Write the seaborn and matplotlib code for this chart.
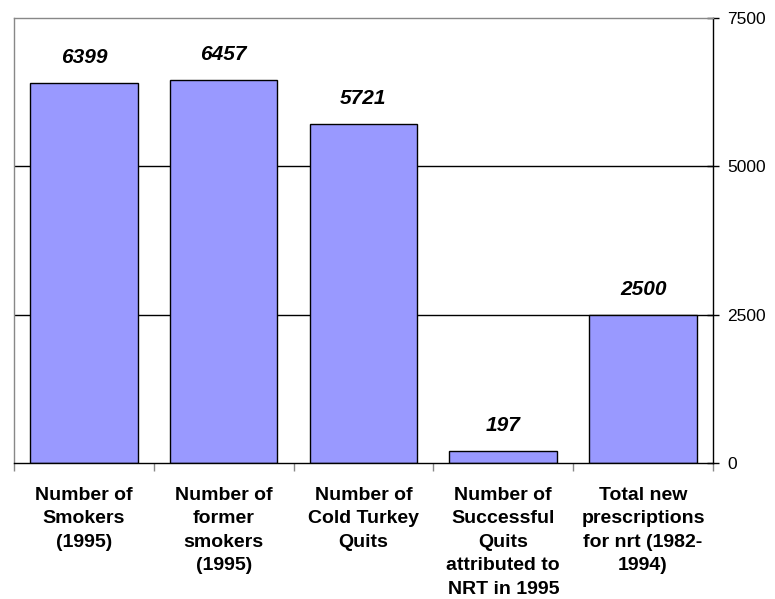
import numpy as np
import matplotlib
matplotlib.use('Agg')

import matplotlib.pyplot as plt
import seaborn as sns
import pandas as pd

# Kategorien und Werte
categories = [
    "Number of\nSmokers\n(1995)",
    "Number of\nformer\nsmokers\n(1995)",
    "Number of\nCold Turkey\nQuits",
    "Number of\nSuccessful\nQuits\nattributed to\nNRT in 1995",
    "Total new\nprescriptions\nfor nrt (1982-\n1994)",
]
values = [6399, 6457, 5721, 197, 2500]
y_ticks = [0, 2500, 5000, 7500]

sns.set_style("white")
plt.rcParams['font.family'] = ['Liberation Sans', 'DejaVu Sans']
plt.rcParams['text.color'] = 'black'
plt.rcParams['xtick.color'] = 'black'
plt.rcParams['ytick.color'] = 'black'

df = pd.DataFrame({"cat": categories, "val": values})

fig = plt.figure(figsize=(7.75, 5.99), dpi=100)
ax = fig.add_axes([0.018, 0.227, 0.902, 0.743])

sns.barplot(data=df, x="cat", y="val", color="#9999FF", edgecolor="black",
            linewidth=1.0, width=0.77, saturation=1, ax=ax)

# Gitterlinien
for t in y_ticks[1:-1]:
    ax.axhline(t, color="black", linewidth=1.0, zorder=0)

# Wertbeschriftungen
for i, v in enumerate(values):
    ax.text(i, v + 270, f"{v}", ha="center", va="bottom", color="black",
            fontsize=15, fontweight="bold", fontstyle="italic")

ax.set_ylim(0, 7500)
ax.set_xlim(-0.5, len(values) - 0.5)
ax.yaxis.tick_right()
ax.set_yticks(y_ticks)
ax.set_yticklabels([str(t) for t in y_ticks], fontsize=12.5)
ax.tick_params(axis="y", direction="inout", length=8, width=1, pad=6, right=True)
ax.set_xticks(np.arange(len(values) + 1) - 0.5, minor=True)
ax.set_xticks(np.arange(len(values)))
ax.set_xticklabels(categories, fontsize=14, fontweight="bold", linespacing=1.5)
ax.tick_params(axis="x", which="major", length=0, pad=17)
ax.tick_params(axis="x", which="minor", length=6, width=1, color="#888888", bottom=True)
ax.set_xlabel("")
ax.set_ylabel("")

for side in ["left", "top"]:
    ax.spines[side].set_color("#888888")
    ax.spines[side].set_linewidth(1.0)
for side in ["right", "bottom"]:
    ax.spines[side].set_color("black")
    ax.spines[side].set_linewidth(1.0)

fig.savefig("out.png", dpi=100)
